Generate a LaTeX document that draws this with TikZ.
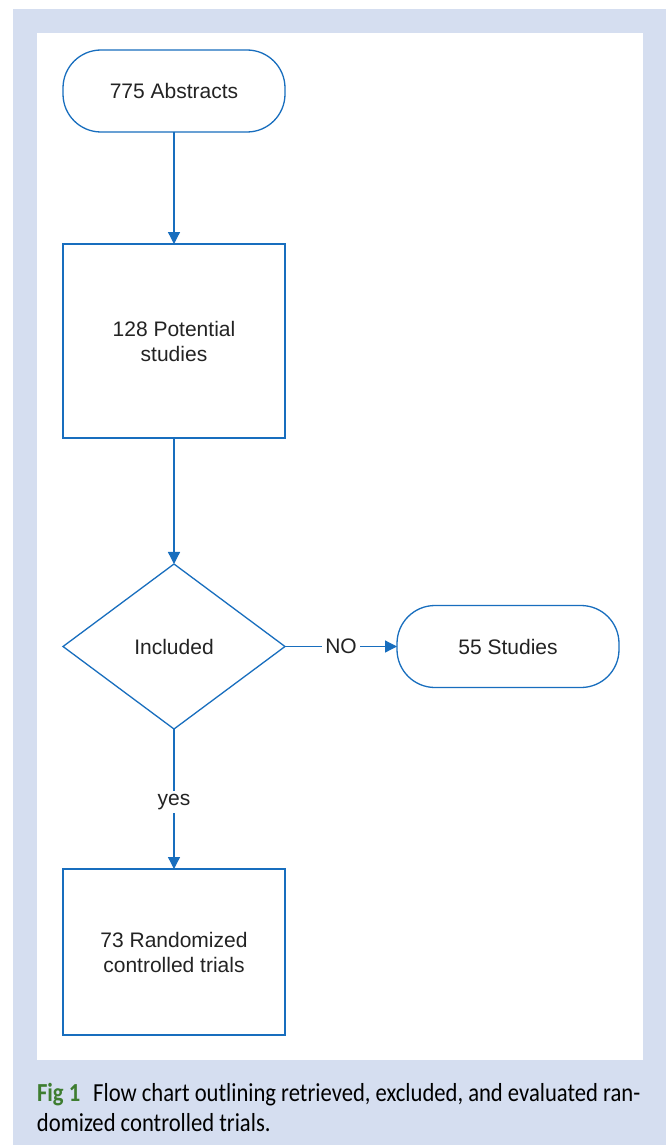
\documentclass[tikz,border=0pt]{standalone}
\usepackage{fontspec}
\setmainfont{Liberation Sans}
\newfontfamily\captionfont[FakeStretch=0.87]{Carlito}
\usepackage{tikz}
\usetikzlibrary{arrows.meta, positioning, shapes.geometric}
\definecolor{flowblue}{RGB}{24,110,190}
\definecolor{panelbg}{RGB}{213,222,240}
\definecolor{figgreen}{RGB}{62,125,48}
\definecolor{txtgray}{RGB}{35,35,35}

\begin{document}
\begin{tikzpicture}[x=1pt, y=1pt,
    every node/.style={font=\fontsize{21}{25}\selectfont, text=txtgray, outer sep=0pt},
    term/.style={draw=flowblue, line width=1.3pt, fill=white, rounded corners=38pt,
        minimum width=222pt, minimum height=82pt, align=center},
    stepbox/.style={draw=flowblue, line width=1.3pt, fill=white,
        minimum width=222pt, align=center},
    decide/.style={draw=flowblue, line width=1.3pt, fill=white, diamond, inner sep=0pt,
        minimum width=222pt, minimum height=165pt},
    flow/.style={draw=flowblue, line width=1.3pt, -{Triangle[width=12pt, length=12pt]}},
    lbl/.style={fill=white, inner sep=3pt}]
    % panel
    \useasboundingbox (0,0) rectangle (666,-1145);
    \fill[panelbg] (13,-9) rectangle (666,-1145);
    \fill[white] (37,-33) rectangle (643,-1060);

    \node[term] (abs) at (174,-91) {775 Abstracts};
    \node[stepbox, minimum height=194pt, below=112pt of abs] (pot) {128 Potential\\studies};
    \node[decide, below=126pt of pot] (inc) {Included};
    \node[term, right=112pt of inc] (excl) {55 Studies};
    \node[stepbox, minimum height=166pt, below=140pt of inc] (rct) {73 Randomized\\controlled trials};

    \draw[flow] (abs) -- (pot);
    \draw[flow] (pot) -- (inc);
    \draw[flow] (inc) -- node[lbl] {NO} (excl);
    \draw[flow] (inc) -- node[lbl, yshift=-3pt] {yes} (rct);

    % caption
    \node[anchor=north west, inner sep=0pt, align=left, text=black,
        font=\captionfont\fontsize{26}{30}\selectfont] (cap) at (37,-1083)
        {{\color{figgreen}\bfseries Fig 1}\hspace{0.5em}Flow chart outlining retrieved, excluded, and evaluated ran-\\domized controlled trials.};
\end{tikzpicture}
\end{document}
